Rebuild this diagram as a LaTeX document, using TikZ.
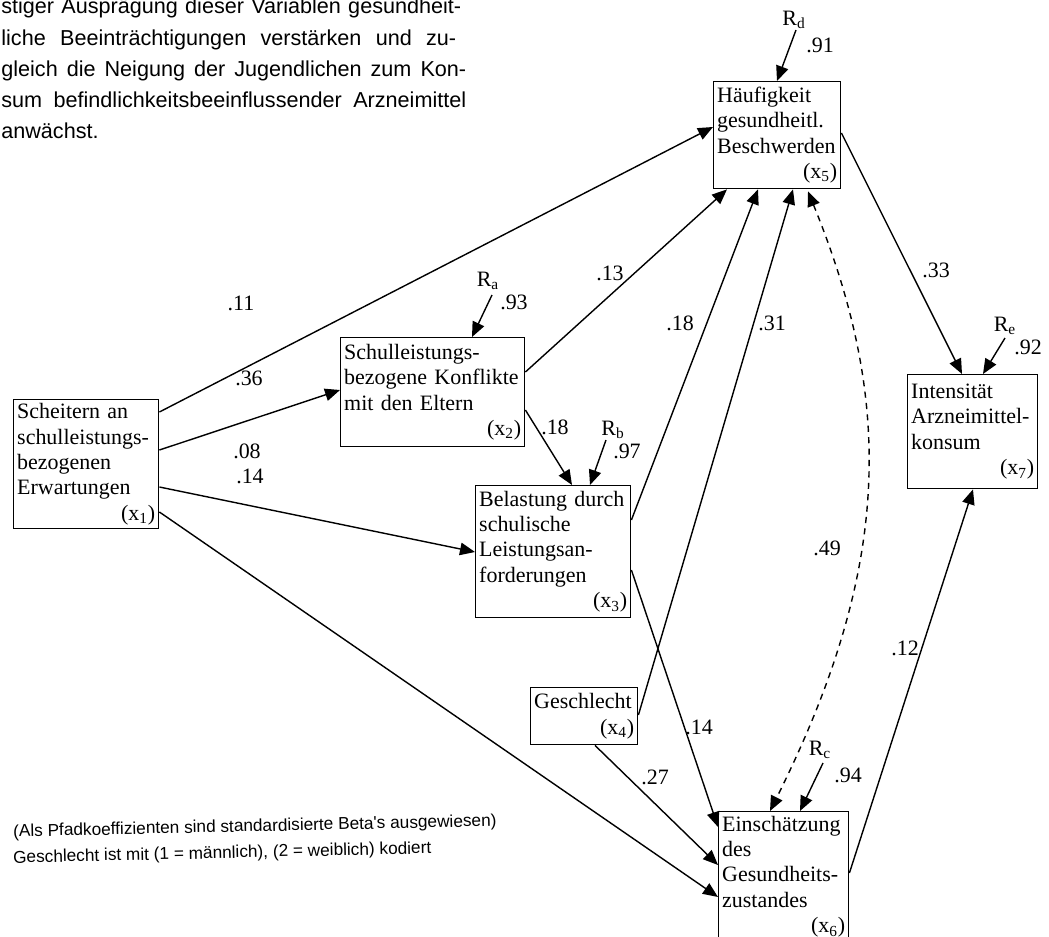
\documentclass[tikz,border=0pt]{standalone}
\usepackage{fontspec}
\setmainfont{Liberation Serif}
\newfontfamily\parafont{Liberation Sans}
\usetikzlibrary{arrows.meta, calc}

\begin{document}
\begin{tikzpicture}[x=0.02cm, y=-0.02cm,
  var/.style={draw, line width=0.8pt, anchor=north west, align=left, inner sep=2pt,
    font=\fontsize{12.5}{14.5}\selectfont},
  path/.style={line width=0.8pt, -{Triangle[length=3mm, width=2.5mm]}},
  corr/.style={line width=0.8pt, dash pattern=on 3.5pt off 3pt,
    {Triangle[length=3mm, width=2.5mm]}-{Triangle[length=3mm, width=2.5mm]}},
  coef/.style={font=\fontsize{12.5}{14.5}\selectfont, inner sep=0pt},
  para/.style={font=\parafont\fontsize{12.3}{15}\selectfont, anchor=base west, inner sep=0pt},
  note/.style={font=\parafont\fontsize{9.8}{12}\selectfont, anchor=base west, inner sep=0pt, rotate=1.3}]
  \useasboundingbox (0,0) rectangle (1049,937);

  % running text above the figure
  \node[para] (p1) at (1,13) {\makebox[9.2cm][s]{stiger Ausprägung dieser Variablen gesundheit-}};
  \node[para] (p2) at (1,45) {\makebox[9.1cm][s]{liche Beeinträchtigungen verstärken und zu-}};
  \node[para] (p3) at (1,76) {\makebox[9.3cm][s]{gleich die Neigung der Jugendlichen zum Kon-}};
  \node[para] (p4) at (1,107) {\makebox[9.3cm][s]{sum befindlichkeitsbeeinflussender Arzneimittel}};
  \node[para] (p5) at (1,138) {anwächst.};

  % variables
  \node[var, text width=2.76cm, minimum height=2.58cm] (x1) at (13,399)
    {Scheitern an\\schulleistungs-\\bezogenen\\Erwartungen\\\mbox{}\hfill(x\textsubscript{1})};
  \node[var, text width=3.54cm, minimum height=2.18cm] (x2) at (340,337)
    {Schulleistungs-\\bezogene Konflikte\\mit den Eltern\\\mbox{}\hfill(x\textsubscript{2})};
  \node[var, text width=2.96cm, minimum height=2.64cm] (x3) at (475,485)
    {Belastung durch\\schulische\\Leistungsan-\\forderungen\\\mbox{}\hfill(x\textsubscript{3})};
  \node[var, text width=2.0cm, minimum height=1.14cm] (x4) at (530,687)
    {Geschlecht\\\mbox{}\hfill(x\textsubscript{4})};
  \node[var, text width=2.4cm, minimum height=2.14cm] (x5) at (713,81)
    {Häufigkeit\\gesundheitl.\\Beschwerden\\\mbox{}\hfill(x\textsubscript{5})};
  \node[var, text width=2.46cm, minimum height=2.6cm] (x6) at (718,811)
    {Einschätzung\\des\\Gesundheits-\\zustandes\\\mbox{}\hfill(x\textsubscript{6})};
  \node[var, text width=2.46cm, minimum height=2.28cm] (x7) at (907,374)
    {Intensität\\Arzneimittel-\\konsum\\\mbox{}\hfill(x\textsubscript{7})};

  % paths
  \draw[path] ($(x1.north east)+(0,13)$) -- ($(x5.north west)+(0,46)$);
  \draw[path] ($(x1.north east)+(0,51)$) -- ($(x2.north west)+(0,53)$);
  \draw[path] ($(x1.north east)+(0,88)$) -- ($(x3.north west)+(0,67)$);
  \draw[path] ($(x1.north east)+(0,113)$) -- ($(x6.north west)+(0,86)$);
  \draw[path] ($(x2.north east)+(0,35)$) -- ($(x5.south west)+(14,0)$);
  \draw[path] ($(x2.north east)+(0,73)$) -- ($(x3.north west)+(97,0)$);
  \draw[path] ($(x3.north east)+(0,35)$) -- ($(x5.south west)+(45,0)$);
  \draw[path] ($(x4.north east)+(0,28)$) -- ($(x5.south west)+(80,0)$);
  \draw[path] ($(x3.north east)+(0,85)$) -- ($(x6.north west)+(0,16)$);
  \draw[path] ($(x4.south west)+(65,0)$) -- ($(x6.north west)+(0,54)$);
  \draw[path] ($(x5.north east)+(0,52)$) -- ($(x7.north west)+(55,0)$);
  \draw[path] ($(x6.north east)+(0,62)$) -- ($(x7.south west)+(66,0)$);
  \draw[corr] ($(x5.south west)+(95,2)$) .. controls (893,400) and (893,565) .. ($(x6.north west)+(52,0)$);

  % coefficients
  \node[coef] (c15) at (241,303) {.11};
  \node[coef] (c12) at (249,378) {.36};
  \node[coef] (c13) at (247,451) {.08};
  \node[coef] (c16) at (250,476) {.14};
  \node[coef] (c25) at (610,273) {.13};
  \node[coef] (c23) at (555,427) {.18};
  \node[coef] (c35) at (680,323) {.18};
  \node[coef] (c45) at (772,323) {.31};
  \node[coef] (c36) at (699,727) {.14};
  \node[coef] (c46) at (655,777) {.27};
  \node[coef] (c57) at (936,270) {.33};
  \node[coef] (c67) at (905,648) {.12};
  \node[coef] (c56) at (827,548) {.49};

  % residuals
  \node[coef] (ra) at (488,281) {R\textsubscript{a}};
  \node[coef] (va) at (514,302) {.93};
  \coordinate (ta) at (492,295);
  \draw[path] (ta) -- ($(x2.north west)+(132,0)$);
  \node[coef] (rb) at (613,430) {R\textsubscript{b}};
  \node[coef] (vb) at (627,451) {.97};
  \coordinate (tb) at (606,440);
  \draw[path] (tb) -- ($(x3.north west)+(115,0)$);
  \node[coef] (rc) at (820,750) {R\textsubscript{c}};
  \node[coef] (vc) at (848,775) {.94};
  \coordinate (tc) at (823,763);
  \draw[path] (tc) -- ($(x6.north west)+(82,0)$);
  \node[coef] (rd) at (794,20) {R\textsubscript{d}};
  \node[coef] (vd) at (820,45) {.91};
  \coordinate (td) at (796,30);
  \draw[path] (td) -- ($(x5.north west)+(64,0)$);
  \node[coef] (re) at (1005,326) {R\textsubscript{e}};
  \node[coef] (ve) at (1028,347) {.92};
  \coordinate (te) at (1005,338);
  \draw[path] (te) -- ($(x7.north west)+(76,0)$);

  % notes
  \node[note] (n1) at (13,837) {(Als Pfadkoeffizienten sind standardisierte Beta's ausgewiesen)};
  \node[note] (n2) at (13,863) {Geschlecht ist mit (1 = männlich), (2 = weiblich) kodiert};
\end{tikzpicture}
\end{document}
